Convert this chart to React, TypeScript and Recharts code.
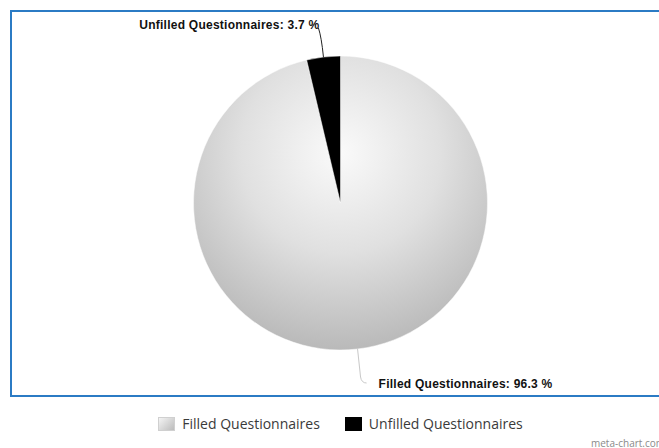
import { PieChart, Pie, Cell, Legend } from "recharts";

const labels = ["Filled Questionnaires", "Unfilled Questionnaires"];
const shares = [96.3, 3.7];
const fills = ["url(#pieGrey)", "#000000"];
const lineColors = ["#c8c8c8", "#222222"];

const data = labels.map((name, i) => ({ name, value: shares[i] }));

const RADIAN = Math.PI / 180;

function SliceLabel(props: any) {
  const { cx, cy, midAngle, outerRadius, name, value, index } = props;
  const sx = cx + outerRadius * Math.cos(-midAngle * RADIAN);
  const sy = cy + outerRadius * Math.sin(-midAngle * RADIAN);
  const text = `${name}: ${Number(value).toFixed(1)} %`;
  const style = { fontFamily: "'Liberation Sans', Arial, sans-serif", fontWeight: 700, fontSize: 12, fill: "#111", letterSpacing: 0.25 };
  if (sy < cy) {
    // label above, hooked to the left
    const ey = sy - 29;
    const path = `M${sx},${sy} Q${sx - 2},${sy - 20} ${sx - 5},${ey}`;
    return (
      <g>
        <path d={path} stroke={lineColors[index]} strokeWidth={1} fill="none" />
        <text x={sx - 4} y={ey + 1} textAnchor="end" style={style}>{text}</text>
      </g>
    );
  }
  const ey = sy + 34;
  const path = `M${sx},${sy} L${sx + 3},${ey - 6} Q${sx + 4},${ey} ${sx + 9},${ey}`;
  return (
    <g>
      <path d={path} stroke={lineColors[index]} strokeWidth={1} fill="none" />
      <text x={sx + 21} y={ey + 5} textAnchor="start" style={style}>{text}</text>
    </g>
  );
}

function LegendBox({ payload }: any) {
  return (
    <div style={{ display: "flex", justifyContent: "center", paddingLeft: 22, fontFamily: "'Open Sans', sans-serif", fontSize: 14, color: "#3a3a3a" }}>
      {(payload || []).map((p: any, i: number) => (
        <div key={p.value} style={{ display: "flex", alignItems: "center", marginRight: i === 0 ? 25 : 0 }}>
          <span
            style={{
              display: "inline-block",
              width: 17,
              height: 14,
              marginRight: 7,
              background: i === 0 ? "linear-gradient(135deg, #f4f4f4, #bcbcbc)" : "#000",
              border: i === 0 ? "1px solid #d0d0d0" : "1px solid #000",
              boxSizing: "border-box",
            }}
          />
          <span>{p.value}</span>
        </div>
      ))}
    </div>
  );
}

export default function App() {
  return (
    <div style={{ position: "absolute", left: 0, top: 0, width: 659, height: 448, background: "#fff", overflow: "hidden" }}>
      <svg width={0} height={0} style={{ position: "absolute" }}>
        <defs>
          <radialGradient id="pieGrey" cx="50%" cy="33%" r="68%">
            <stop offset="0%" stopColor="#fafafa" />
            <stop offset="50%" stopColor="#e0e0e0" />
            <stop offset="100%" stopColor="#b8b8b8" />
          </radialGradient>
        </defs>
      </svg>
      <div style={{ position: "absolute", left: 10, top: 10, width: 680, height: 383, border: "2px solid #2b7bc4" }} />
      <PieChart width={659} height={448} margin={{ top: 0, right: 0, bottom: 0, left: 0 }} style={{ position: "absolute", left: 0, top: 0 }}>
        <Pie
          data={data}
          dataKey="value"
          nameKey="name"
          cx={340.5}
          cy={203}
          outerRadius={147}
          startAngle={90}
          endAngle={-270}
          stroke="#ffffff"
          strokeWidth={0.5}
          label={SliceLabel}
          labelLine={false}
          isAnimationActive={false}
        >
          {data.map((d, i) => (
            <Cell key={d.name} fill={fills[i]} />
          ))}
        </Pie>
        <Legend content={LegendBox} wrapperStyle={{ position: "absolute", top: 414, left: 0, width: 659, bottom: "auto" }} />
      </PieChart>
      <div style={{ position: "absolute", left: 591, top: 436, fontFamily: "'Open Sans', sans-serif", fontSize: 10, color: "#8a8a8a", whiteSpace: "nowrap" }}>
        meta-chart.com
      </div>
    </div>
  );
}
